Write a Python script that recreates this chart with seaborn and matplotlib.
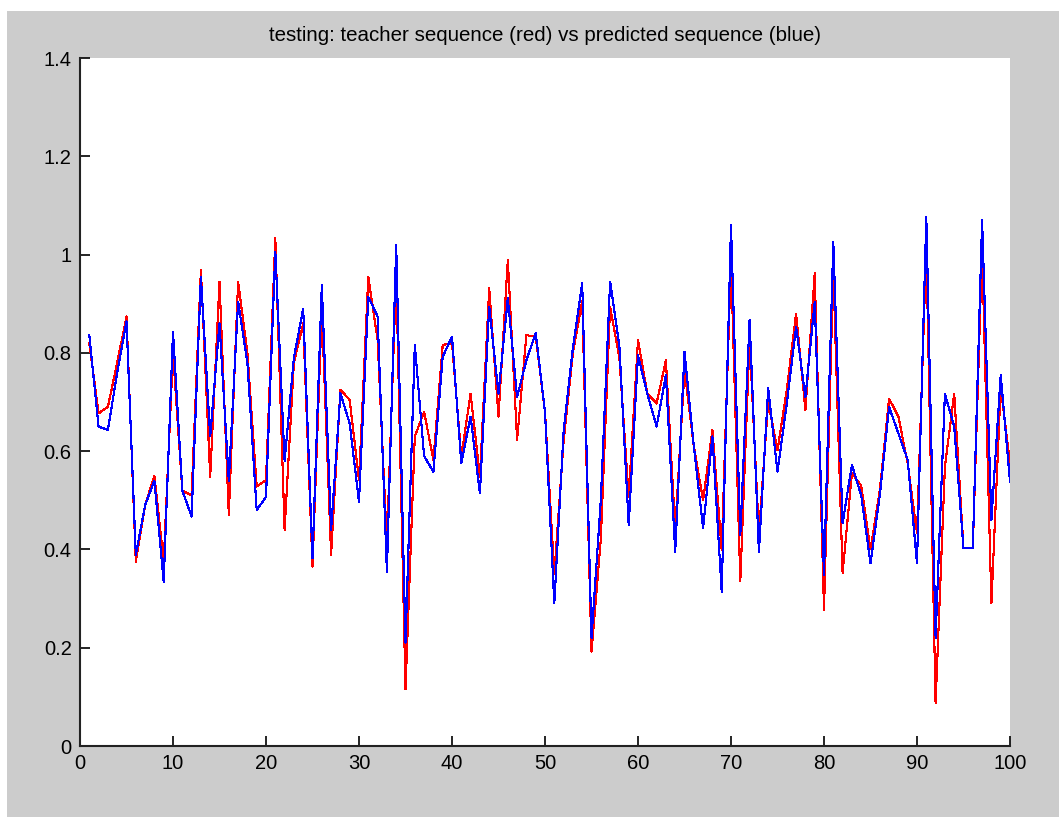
import numpy as np
import pandas as pd
import matplotlib
matplotlib.use("Agg")
import matplotlib.pyplot as plt
import seaborn as sns
from matplotlib.patches import Rectangle

# ---- data ----
steps = list(range(1, 101))
teacher = [0.82, 0.677, 0.69, 0.78, 0.874, 0.375, 0.49, 0.55, 0.376, 0.80,
           0.52, 0.51, 0.969, 0.548, 0.945, 0.47, 0.945, 0.80, 0.528, 0.541,
           1.033, 0.44, 0.78, 0.86, 0.365, 0.887, 0.389, 0.725, 0.704, 0.541,
           0.955, 0.826, 0.412, 0.962, 0.115, 0.63, 0.68, 0.582, 0.816, 0.82,
           0.589, 0.717, 0.548, 0.931, 0.67, 0.989, 0.623, 0.836, 0.833, 0.68,
           0.35, 0.62, 0.8, 0.905, 0.192, 0.42, 0.894, 0.79, 0.507, 0.826,
           0.717, 0.697, 0.785, 0.44, 0.765, 0.61, 0.5, 0.643, 0.399, 0.989,
           0.335, 0.826, 0.432, 0.7, 0.602, 0.725, 0.88, 0.684, 0.962, 0.277,
           0.969, 0.352, 0.555, 0.53, 0.4, 0.52, 0.707, 0.67, 0.575, 0.433,
           1.016, 0.087, 0.568, 0.717, 0.402, 0.402, 1.01, 0.29, 0.731, 0.575]
predicted = [0.836, 0.65, 0.643, 0.76, 0.864, 0.389, 0.49, 0.54, 0.334, 0.843,
             0.52, 0.467, 0.955, 0.63, 0.86, 0.54, 0.904, 0.78, 0.48, 0.507,
             1.006, 0.58, 0.79, 0.89, 0.382, 0.938, 0.44, 0.718, 0.656, 0.497,
             0.914, 0.874, 0.355, 1.02, 0.21, 0.816, 0.59, 0.558, 0.792, 0.833,
             0.575, 0.67, 0.514, 0.894, 0.717, 0.911, 0.71, 0.785, 0.84, 0.68,
             0.29, 0.64, 0.81, 0.942, 0.22, 0.5, 0.945, 0.813, 0.45, 0.795,
             0.717, 0.65, 0.755, 0.395, 0.802, 0.61, 0.443, 0.63, 0.314, 1.06,
             0.43, 0.867, 0.395, 0.728, 0.558, 0.697, 0.853, 0.71, 0.904, 0.348,
             1.026, 0.453, 0.572, 0.51, 0.372, 0.51, 0.69, 0.636, 0.582, 0.372,
             1.077, 0.22, 0.717, 0.65, 0.402, 0.402, 1.07, 0.46, 0.755, 0.538]
title_text = "testing: teacher sequence (red) vs predicted sequence (blue)"
xticks = list(range(0, 101, 10))
yticks = [0, 0.2, 0.4, 0.6, 0.8, 1.0, 1.2, 1.4]
ytick_labels = ["0", "0.2", "0.4", "0.6", "0.8", "1", "1.2", "1.4"]

df = pd.DataFrame({"step": steps, "teacher": teacher, "predicted": predicted})

plt.rcParams['font.family'] = ['Liberation Sans', 'DejaVu Sans']

W, H = 1059, 817
fig = plt.figure(figsize=(W / 100, H / 100), dpi=100, facecolor="white")
# MATLAB-style grey figure background (screenshot has thin white border top/left)
fig.patches.append(Rectangle((7 / W, 0), 1 - 7 / W, 1 - 11 / H,
                             transform=fig.transFigure, facecolor="#cccccc",
                             edgecolor="none", zorder=-10))

ax = fig.add_axes([80 / W, 1 - 746 / H, (1010 - 80) / W, (746 - 58) / H])
ax.set_facecolor("white")

sns.lineplot(data=df, x="step", y="teacher", color="red", linewidth=0.8,
             ax=ax, antialiased=False)
sns.lineplot(data=df, x="step", y="predicted", color="blue", linewidth=0.8,
             ax=ax, antialiased=False)

ax.set_xlim(0, 100)
ax.set_ylim(0, 1.4)
ax.set_xticks(xticks)
ax.set_yticks(yticks)
ax.set_yticklabels(ytick_labels)
ax.set_xlabel("")
ax.set_ylabel("")
ax.tick_params(direction="in", length=7, width=1.2, labelsize=14.5,
               colors="black", pad=6)
for s in ["top", "right"]:
    ax.spines[s].set_visible(False)
for s in ["left", "bottom"]:
    ax.spines[s].set_linewidth(1.5)
    ax.spines[s].set_color("#222222")

ax.set_title(title_text, fontsize=14.8, pad=12, color="black")

fig.savefig("out.png", dpi=100, facecolor=fig.get_facecolor())
